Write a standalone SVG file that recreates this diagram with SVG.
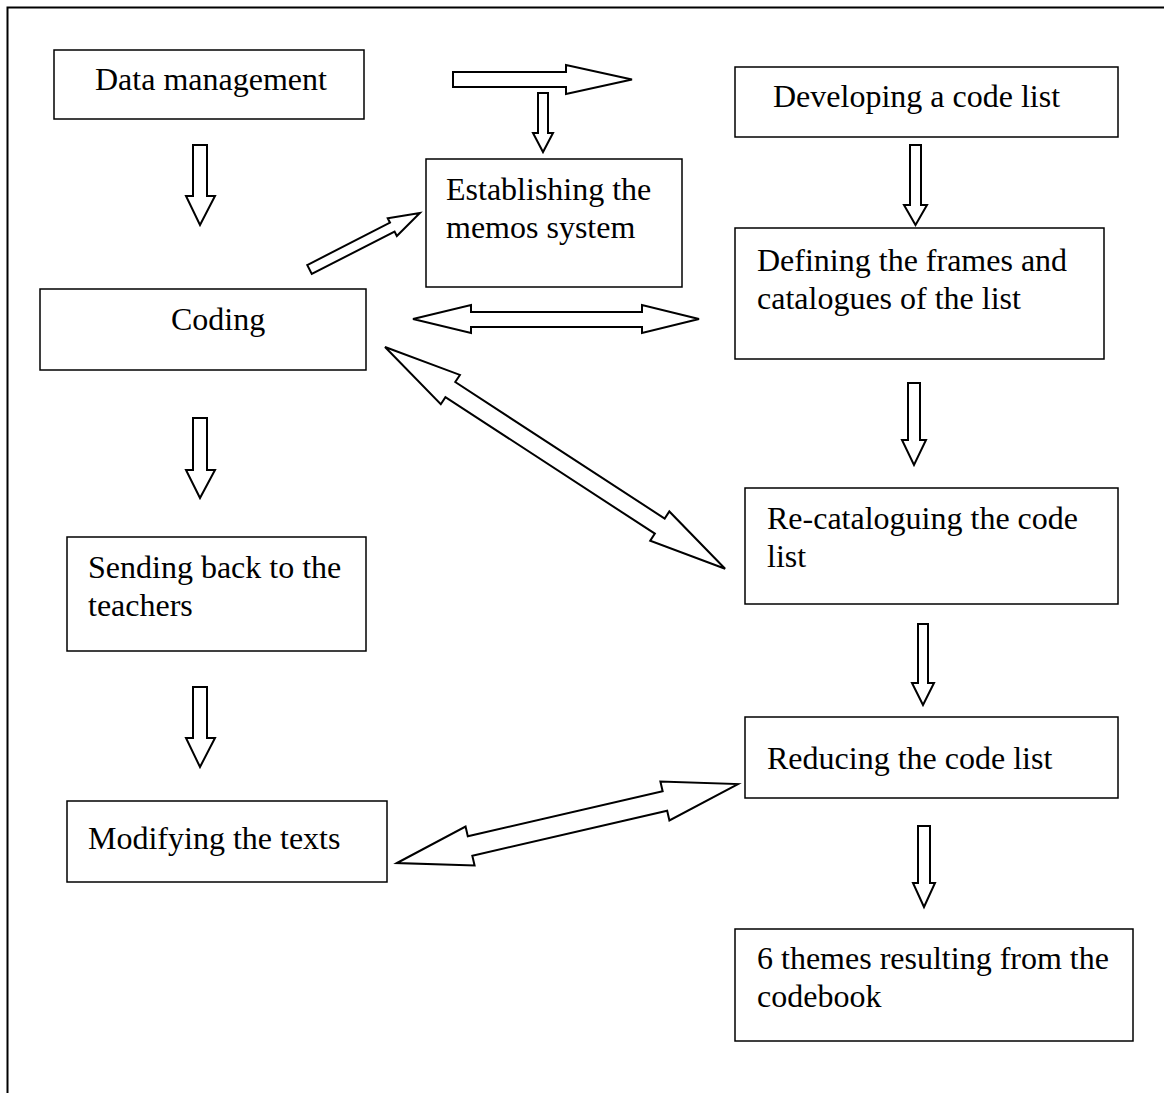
<svg xmlns="http://www.w3.org/2000/svg" width="1164" height="1093" viewBox="0 0 1164 1093">
  <style>
    .box { fill: #ffffff; stroke: #000000; stroke-width: 1.5; }
    .label { font-family: "Liberation Serif", "Times New Roman", serif; font-size: 32px; fill: #000000; }
    .arrow { fill: #ffffff; stroke: #000000; stroke-width: 2; stroke-linejoin: miter; }
    .frame { stroke: #000000; stroke-width: 2; fill: none; }
  </style>
  <rect width="1164" height="1093" fill="#ffffff"/>

  <!-- page frame (top and left edges) -->
  <path class="frame" d="M7.5,1093 V7.5 H1164"/>

  <!-- nodes -->
  <g id="data-management">
    <rect class="box" x="54" y="50" width="310" height="69"/>
    <text class="label" x="95" y="90">Data management</text>
  </g>
  <g id="developing-code-list">
    <rect class="box" x="735" y="67" width="383" height="70"/>
    <text class="label" x="773" y="107">Developing a code list</text>
  </g>
  <g id="memos-system">
    <rect class="box" x="426" y="159" width="256" height="128"/>
    <text class="label" x="446" y="200">Establishing the</text>
    <text class="label" x="446" y="238">memos system</text>
  </g>
  <g id="coding">
    <rect class="box" x="40" y="289" width="326" height="81"/>
    <text class="label" x="171" y="330">Coding</text>
  </g>
  <g id="defining-frames">
    <rect class="box" x="735" y="228" width="369" height="131"/>
    <text class="label" x="757" y="271">Defining the frames and</text>
    <text class="label" x="757" y="309">catalogues of the list</text>
  </g>
  <g id="re-cataloguing">
    <rect class="box" x="745" y="488" width="373" height="116"/>
    <text class="label" x="767" y="529">Re-cataloguing the code</text>
    <text class="label" x="767" y="567">list</text>
  </g>
  <g id="sending-back">
    <rect class="box" x="67" y="537" width="299" height="114"/>
    <text class="label" x="88" y="578">Sending back to the</text>
    <text class="label" x="88" y="616">teachers</text>
  </g>
  <g id="reducing">
    <rect class="box" x="745" y="717" width="373" height="81"/>
    <text class="label" x="767" y="769">Reducing the code list</text>
  </g>
  <g id="modifying-texts">
    <rect class="box" x="67" y="801" width="320" height="81"/>
    <text class="label" x="88" y="849">Modifying the texts</text>
  </g>
  <g id="six-themes">
    <rect class="box" x="735" y="929" width="398" height="112"/>
    <text class="label" x="757" y="969">6 themes resulting from the</text>
    <text class="label" x="757" y="1007">codebook</text>
  </g>

  <!-- connectors: block arrows -->
  <g id="connectors">
    <!-- top: right-pointing arrow with a branch down -->
    <polygon class="arrow" points="453,72 566,72 566,65 632,79.5 566,94 566,87 453,87"/>
    <polygon class="arrow" points="538,93 548,93 548,133 553,133 543,152 533,133 538,133"/>

    <!-- left column downward arrows -->
    <polygon class="arrow" points="193,145 207,145 207,196 215,196 200,225 186,196 193,196"/>
    <polygon class="arrow" points="193,418 207,418 207,470 215,470 200,498 186,470 193,470"/>
    <polygon class="arrow" points="193,687 207,687 207,738 215,738 200,767 186,738 193,738"/>

    <!-- right column downward arrows -->
    <polygon class="arrow" points="910,145 921,145 921,205 927,205 915.5,225 904,205 910,205"/>
    <polygon class="arrow" points="908,383 920,383 920,440 926,440 914,465 902,440 908,440"/>
    <polygon class="arrow" points="918,624 928,624 928,683 934,683 923,705 912,683 918,683"/>
    <polygon class="arrow" points="918,826 930,826 930,883 935,883 924,907 913,883 918,883"/>

    <!-- coding to memos (single, diagonal) -->
    <polygon class="arrow" transform="translate(309.5,269.5) rotate(-27.1)"
             points="0,-5 93,-5 93,-10 124,0 93,10 93,5 0,5"/>

    <!-- coding <-> defining (double, horizontal) -->
    <polygon class="arrow" points="413,319 471,305 471,312 642,312 642,305 699,319 642,333 642,327 471,327 471,333"/>

    <!-- coding <-> re-cataloguing (double, diagonal) -->
    <polygon class="arrow" transform="translate(385,347) rotate(33.1)"
             points="0,0 78,-17.5 78,-9 328,-9 328,-17.5 406,0 328,17.5 328,9 78,9 78,17.5"/>

    <!-- modifying <-> reducing (double, diagonal) -->
    <polygon class="arrow" transform="translate(397,863) rotate(-13.04)"
             points="0,0 75,-20 75,-10 275,-10 275,-20 350,0 275,20 275,10 75,10 75,20"/>
  </g>
</svg>
